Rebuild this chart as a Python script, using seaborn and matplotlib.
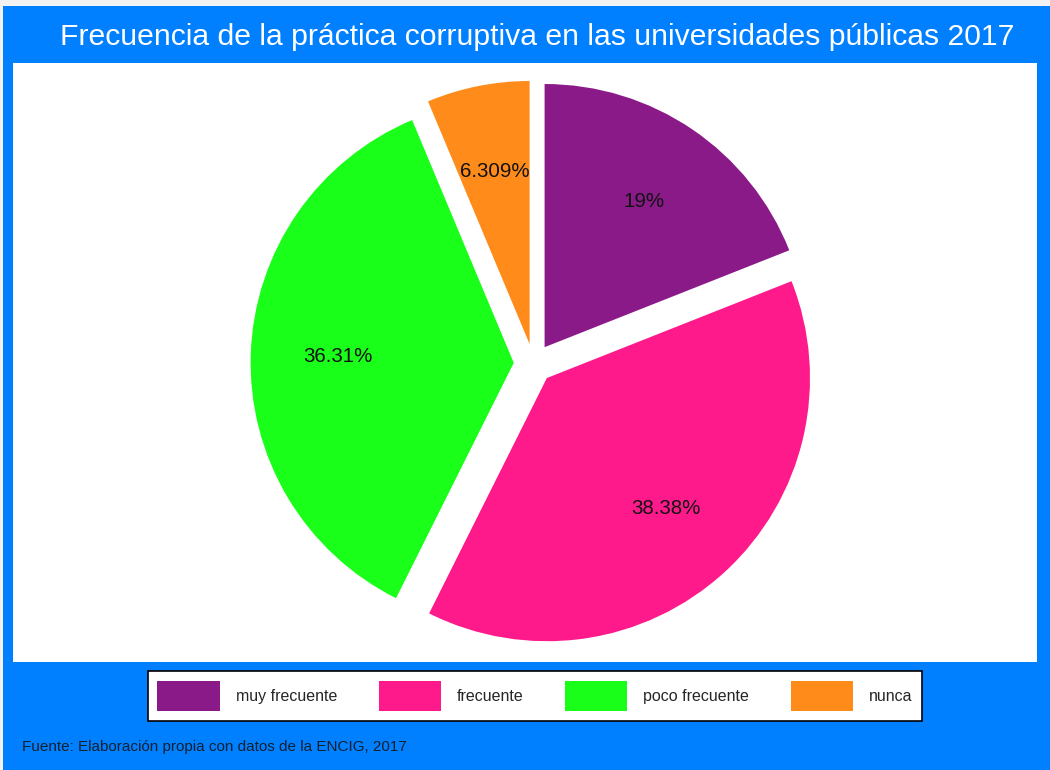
import matplotlib
matplotlib.use("Agg")
import numpy as np
import matplotlib.pyplot as plt
import matplotlib.patches as mpatches
import seaborn as sns

# Data
categorias = ["muy frecuente", "frecuente", "poco frecuente", "nunca"]
porcentajes = [19.0, 38.38, 36.31, 6.309]
etiquetas = ["19%", "38.38%", "36.31%", "6.309%"]
colores = ["#8B1A89", "#FF1A8C", "#1AFF1A", "#FF8C1A"]

titulo = "Frecuencia de la práctica corruptiva en las universidades públicas 2017"
fuente = "Fuente: Elaboración propia con datos de la ENCIG, 2017"

sns.set_theme(style="white")
plt.rcParams["font.family"] = ["Liberation Sans", "DejaVu Sans"]

W, H = 1050, 770
fig = plt.figure(figsize=(W / 100, H / 100), dpi=100, facecolor="#F2F2F2")

# blue frame (background axes)
bg = fig.add_axes([0, 0, 1, 1], zorder=-10)
bg.set_xlim(0, W)
bg.set_ylim(H, 0)
bg.axis("off")
bg.add_patch(mpatches.Rectangle((3, 6), W - 3, H - 6, facecolor="#0080FF", edgecolor="none"))

# white plot area
x0, x1, y0, y1 = 13, 1037, 63, 662
bg.add_patch(mpatches.Rectangle((x0, y0), x1 - x0, y1 - y0, facecolor="white", edgecolor="none"))
ax = fig.add_axes([x0 / W, 1 - y1 / H, (x1 - x0) / W, (y1 - y0) / H])

palette = sns.color_palette(colores)
wedges, texts = ax.pie(porcentajes, colors=palette, startangle=90, counterclock=False,
                       explode=[0.075] * 4, radius=1.0,
                       wedgeprops=dict(linewidth=0))
for w, lab in zip(wedges, etiquetas):
    ang = np.deg2rad((w.theta1 + w.theta2) / 2)
    cx, cy = w.center
    ax.text(cx + 0.67 * np.cos(ang), cy + 0.67 * np.sin(ang), lab,
            ha="center", va="center", fontsize=14.8, color="#111111")

px = 263.16
cxp, cyp = 533.5, 363.5
ax.set_aspect("auto")
ax.set_xlim(-(cxp - x0) / px, (x1 - cxp) / px)
ax.set_ylim(-(y1 - cyp) / px, (cyp - y0) / px)
ax.axis("off")

fig.text(537.5 / W, 1 - 37 / H, titulo, ha="center", va="center",
         color="white", fontsize=21.7)

handles = [mpatches.Patch(facecolor=c, edgecolor="none", label=l)
           for c, l in zip(palette, categorias)]
leg = fig.legend(handles=handles, loc="center", ncol=4,
                 bbox_to_anchor=(535 / W, 1 - 696 / H),
                 frameon=True, fancybox=False, fontsize=11.5,
                 handlelength=3.9, handleheight=2.5, handletextpad=1.0,
                 columnspacing=2.6, borderpad=0.6, borderaxespad=0)
leg.get_frame().set_edgecolor("black")
leg.get_frame().set_linewidth(1.2)
leg.get_frame().set_facecolor("white")
leg.get_frame().set_alpha(1)

fig.text(22 / W, 1 - 747 / H, fuente, ha="left", va="center",
         color="#102030", fontsize=11)

fig.savefig("out.png", dpi=100, facecolor=fig.get_facecolor())
